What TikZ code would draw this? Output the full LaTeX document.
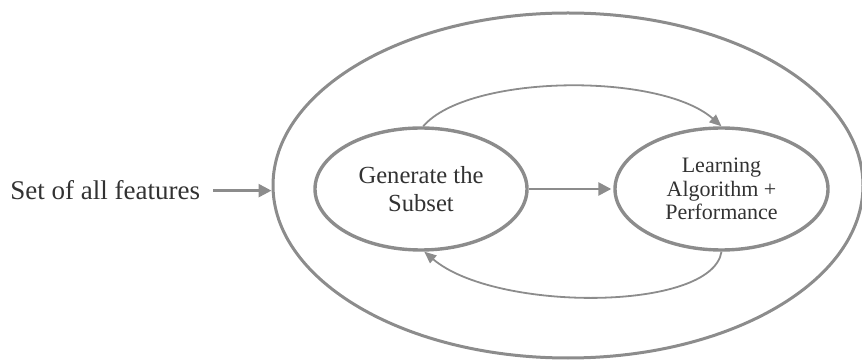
\documentclass[tikz,border=0pt]{standalone}
\usepackage{fontspec}
\setmainfont{Liberation Serif}
\usetikzlibrary{arrows.meta,shapes.geometric}
\definecolor{lineg}{RGB}{140,140,140}
\definecolor{textg}{RGB}{50,50,50}
\begin{document}
\begin{tikzpicture}[x=0.5pt,y=-0.5pt,
  oval/.style={ellipse,draw=lineg,line width=1.7pt,inner sep=0pt,align=center,text=textg},
  bigarrow/.style={draw=lineg,line width=1.3pt,-{Triangle[length=6.5pt,width=6.5pt]}},
  looparrow/.style={draw=lineg,line width=0.9pt,-{Triangle[length=6pt,width=5pt]}}]
\useasboundingbox (0,0) rectangle (862,363);
\node[oval,line width=1.5pt,minimum width=295pt,minimum height=172.5pt] (outer) at (568,185.5) {};
\node[oval,minimum width=106pt,minimum height=61pt,font=\fontsize{12.3}{14}\selectfont] (gen) at (421,189) {Generate the\\Subset};
\node[oval,minimum width=106.5pt,minimum height=61pt,font=\fontsize{11}{11.75}\selectfont] (learn) at (721.5,189) {Learning\\Algorithm +\\Performance};
\node[anchor=base west,inner sep=0pt,text=textg,font=\fontsize{13.5}{16}\selectfont] (feat) at (10,200) {Set of all features};
\draw[bigarrow,shorten <=6.5pt] (feat.east) -- (feat.east -| outer.west);
\draw[bigarrow,shorten >=1pt] (gen.east) -- (learn.west);
\draw[looparrow] (gen.88) .. controls (468,74) and (660,72) .. (learn.north);
\draw[looparrow] (learn.south) .. controls (712,312) and (495,312) .. (gen.-87);
\end{tikzpicture}
\end{document}
